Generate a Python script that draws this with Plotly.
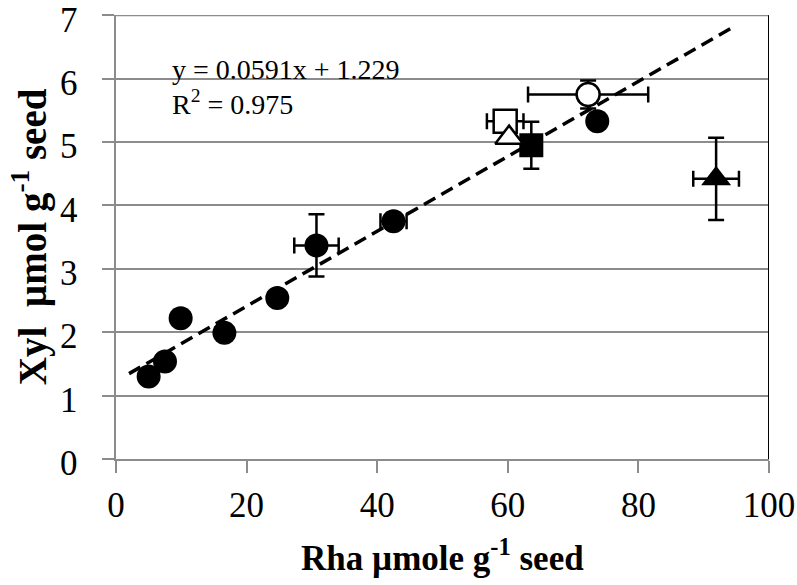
import plotly.graph_objects as go

# filled circles
circ_x = [5.0, 7.5, 9.9, 16.6, 24.7, 30.7, 42.5, 73.7]
circ_y = [1.30, 1.54, 2.22, 1.99, 2.54, 3.37, 3.75, 5.33]
circ_ex = [0, 0, 0, 0, 0, 3.4, 2.0, 1.0]
circ_ey = [0, 0, 0, 0, 0, 0.49, 0, 0.12]

# open circle
ocirc_x = [72.3]; ocirc_y = [5.75]; ocirc_ex = [9.2]; ocirc_ey = [0.22]
# open square
osq_x = [59.6]; osq_y = [5.33]; osq_ex = [2.8]; osq_ey = [0]
# open triangle
otri_x = [60.2]; otri_y = [5.07]
# filled square
fsq_x = [63.6]; fsq_y = [4.95]; fsq_ex = [0]; fsq_ey = [0.37]
# filled triangle
ftri_x = [91.9]; ftri_y = [4.42]; ftri_ex = [3.5]; ftri_ey = [0.65]

slope = 0.0591
intercept = 1.229
fit_x = [2.0, 94.5]
fit_y = [slope * v + intercept for v in fit_x]

x_ticks = [0, 20, 40, 60, 80, 100]
y_ticks = [0, 1, 2, 3, 4, 5, 6, 7]
NBSP = "\u00a0"
y_ticktext = [f"{v}{NBSP * 2}" for v in y_ticks]

x_title = "<b>Rha µmole g<sup>-1</sup> seed</b>"
y_title = "<b>Xyl  µmol g<sup>-1</sup> seed</b>"

SERIF = "Liberation Serif, Times New Roman, serif"
GRAY = "#8c8c8c"

def eb(arr, w=8):
    return dict(type="data", array=arr, visible=True, color="black", thickness=2.5, width=w)

fig = go.Figure()

fig.add_trace(go.Scatter(x=fit_x, y=fit_y, mode="lines",
                         line=dict(color="black", width=3.5, dash="13px,7px"), hoverinfo="skip"))

fig.add_trace(go.Scatter(x=circ_x, y=circ_y, mode="markers",
                         marker=dict(symbol="circle", size=24, color="black"),
                         error_x=eb(circ_ex), error_y=eb(circ_ey)))
fig.add_trace(go.Scatter(x=fsq_x, y=fsq_y, mode="markers",
                         marker=dict(symbol="square", size=24, color="black"),
                         error_x=eb(fsq_ex), error_y=eb(fsq_ey)))
fig.add_trace(go.Scatter(x=osq_x, y=osq_y, mode="markers",
                         marker=dict(symbol="square", size=23, color="white",
                                     line=dict(color="black", width=2.5)),
                         error_x=eb(osq_ex), error_y=eb(osq_ey)))
fig.add_trace(go.Scatter(x=otri_x, y=otri_y, mode="markers",
                         marker=dict(symbol="triangle-up", size=24, color="white",
                                     line=dict(color="black", width=2.5))))
fig.add_trace(go.Scatter(x=ocirc_x, y=ocirc_y, mode="markers",
                         marker=dict(symbol="circle", size=23, color="white",
                                     line=dict(color="black", width=2.5)),
                         error_x=eb(ocirc_ex), error_y=eb(ocirc_ey)))
fig.add_trace(go.Scatter(x=ftri_x, y=ftri_y, mode="markers",
                         marker=dict(symbol="triangle-up", size=26, color="black"),
                         error_x=eb(ftri_ex), error_y=eb(ftri_ey)))

fig.add_shape(type="line", x0=100, x1=100, y0=0, y1=7, xref="x", yref="y",
              line=dict(color="black", width=2))
fig.add_shape(type="line", x0=0, x1=100, y0=7, y1=7, xref="x", yref="y",
              line=dict(color=GRAY, width=2), layer="below")

fig.add_annotation(x=8.3, y=6.15, xref="x", yref="y", xanchor="left", yanchor="middle",
                   text="y = 0.0591x + 1.229", showarrow=False,
                   font=dict(family=SERIF, size=28, color="black"))
fig.add_annotation(x=8.3, y=5.62, xref="x", yref="y", xanchor="left", yanchor="middle",
                   text="R<sup>2</sup> = 0.975", showarrow=False,
                   font=dict(family=SERIF, size=28, color="black"))

# axis titles
fig.add_annotation(x=0.5, y=-0.218, xref="paper", yref="paper", xanchor="center", yanchor="middle",
                   text=x_title, showarrow=False,
                   font=dict(family=SERIF, size=35, color="black"))
fig.add_annotation(x=-0.133, y=0.5, xref="paper", yref="paper", xanchor="center", yanchor="middle",
                   text=y_title, showarrow=False, textangle=-90,
                   font=dict(family=SERIF, size=39, color="black"))

fig.update_layout(
    width=797, height=585,
    margin=dict(l=116, r=28, t=15, b=126),
    paper_bgcolor="white", plot_bgcolor="white",
    showlegend=False,
    font=dict(family=SERIF, color="black"),
    xaxis=dict(range=[0, 100], tickvals=x_ticks, showgrid=False, zeroline=False,
               automargin=False, ticklabeloverflow="allow",
               showline=True, linecolor=GRAY, linewidth=2,
               ticks="outside", ticklen=12, tickwidth=2, tickcolor=GRAY,
               ticklabelstandoff=2,
               tickfont=dict(family=SERIF, size=35, color="black")),
    yaxis=dict(range=[0, 7.005], tickvals=y_ticks, ticktext=y_ticktext,
               showgrid=True, gridcolor=GRAY, gridwidth=2,
               automargin=False, ticklabeloverflow="allow", ticklabelshift=4,
               zeroline=False, showline=True, linecolor=GRAY, linewidth=2,
               ticks="outside", ticklen=12, tickwidth=2, tickcolor=GRAY,
               tickfont=dict(family=SERIF, size=35, color="black")),
)

fig.write_html("out.html", post_script="document.body.style.margin='0';",
               config={"displayModeBar": False})
